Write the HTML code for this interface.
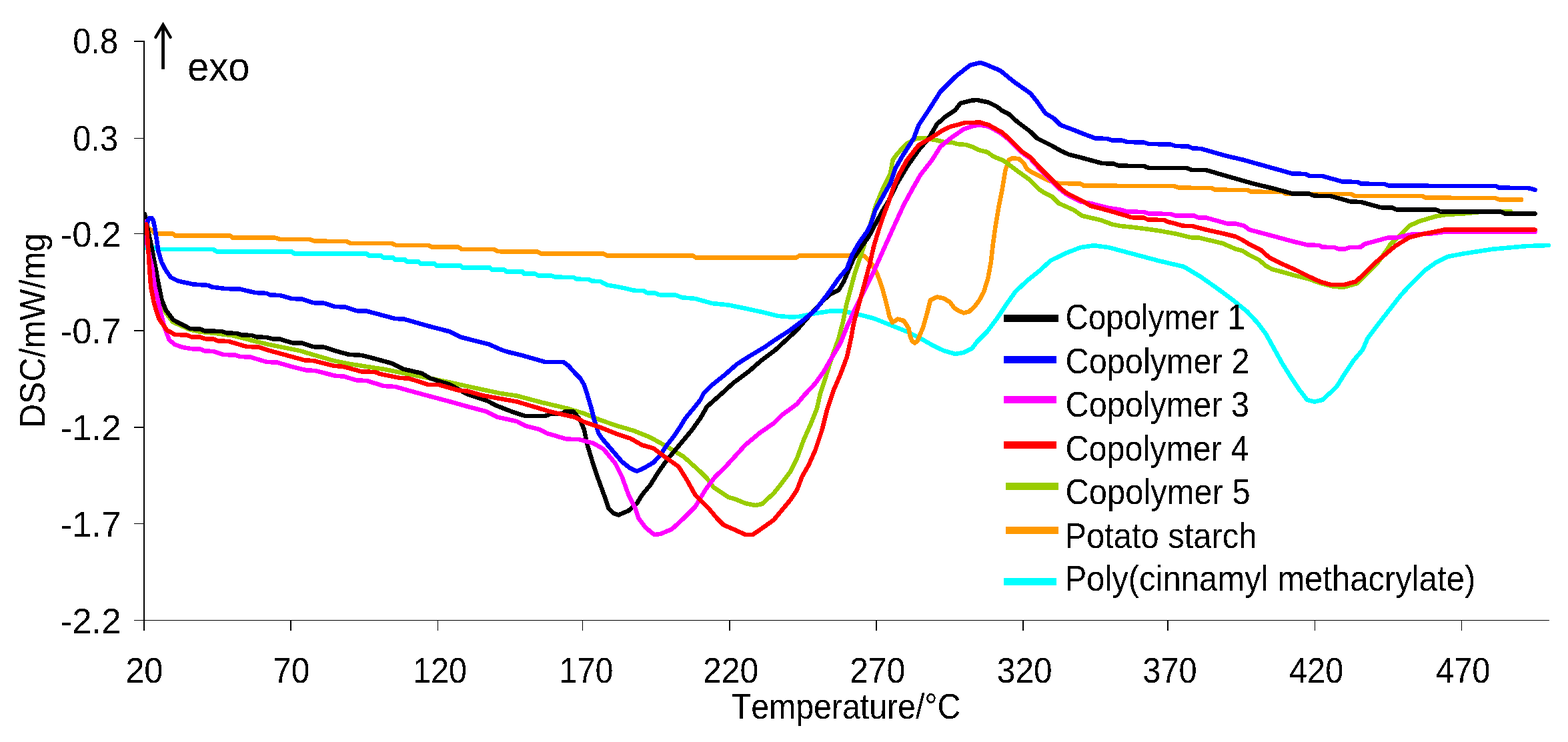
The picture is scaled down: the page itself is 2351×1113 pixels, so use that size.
<!DOCTYPE html>
<html lang="en"><head><meta charset="utf-8"><title>DSC curves</title>
<style>
html,body{margin:0;padding:0;background:#fff;}
body{width:2351px;height:1113px;overflow:hidden;}
svg{display:block;}
text{font-family:"Liberation Sans",Arial,Helvetica,sans-serif;fill:#000;white-space:pre;}
.c polyline{fill:none;stroke-linejoin:round;stroke-linecap:round;}
.ax line{stroke:#000;}
</style></head><body>
<svg width="2351" height="1113" viewBox="0 0 2351 1113">
<rect x="0" y="0" width="2351" height="1113" fill="#ffffff"/>
<clipPath id="plot"><rect x="216" y="0" width="2135" height="1113"/></clipPath>
<g class="c" shape-rendering="crispEdges" clip-path="url(#plot)">
<polyline points="216,371.3 232,371.3 236,373.8 320,373.8 324,377.2 437.5,377.2 441,380.5 549.8,380.5 553,383.4 571.5,383.4 574.6,386.3 589.3,386.3 591.9,389.4 607.2,389.4 609.7,392.4 627.6,392.4 630.8,395.5 651.8,395.5 654.4,398.6 690.8,398.6 693.3,401.5 734.8,401.5 737.3,404.6 756.5,404.6 759,407.5 783.3,407.5 785.8,410.6 802.5,410.7 807.5,413.5 827.5,413.7 832.5,415.7 860,416 865,418.7 882.5,419 887.5,421.7 900,422 910,427.5 925,430 940,433 950,435.7 965,436.2 970,439.2 982.5,439.7 987.5,442.2 1012.5,442.5 1022.5,446.2 1042.5,448 1067.5,455 1092.5,457.5 1122.5,463.7 1147.5,469.2 1165,473.7 1185,475.5 1197.5,475 1222.5,470 1247.5,466.2 1262.5,466.2 1285,471.2 1310,477.5 1335,487.5 1360,497.5 1380,507.5 1397.5,517.5 1415,526 1432.5,531 1445,528.7 1457.5,522.5 1465,512.5 1480,497.5 1495,477.5 1510,455 1522.5,437.5 1540,421 1560,405 1575,391 1597.5,380 1620,371.2 1640,368.2 1662.5,371.2 1700,381.2 1737.5,391.2 1775,400 1800,415 1825,432.5 1850,451.2 1870,467.5 1885,483.7 1897.5,500 1910,522.5 1922.5,545 1935,565 1947.5,583.7 1960,600 1971,602.5 1982.5,600 1995,588.7 2005,578.7 2015,562.5 2030,540 2043,525 2050.5,507.5 2065.5,487.5 2083,465 2100.5,442.5 2118,423.7 2135.5,406.2 2153,393.7 2170.5,385 2193,380.7 2238,373.7 2288,369.2 2322,368" stroke="#00ffff" stroke-width="6.6"/>
<polyline points="216,340.5 222,342 228,346 233,350.4 259,350.4 262.5,353.4 345,353.4 348.5,356.4 412,356.5 420,359 465,359.2 472.5,361.7 520,362 525,365 587.5,365 594,368 642.5,368 647.5,370.7 687.5,370.7 692.5,374 740,374 747.5,377.2 806,377.5 811,380.5 905,380.5 910,383.5 1038.7,383.5 1043.7,386.5 1193.7,386.5 1198.7,383.5 1295,383.5 1305,392.5 1315,410 1322.5,431 1329,455 1333.7,475 1338,483.7 1346,478.7 1355,481 1362.5,492.5 1364.5,504 1367.5,511.5 1371.5,514.5 1375.5,511.5 1379,503 1384,491 1390,470 1395,450 1405,445.5 1415,447.5 1424,453 1431,462 1438,466.5 1445,469.3 1453,467.5 1461,460 1468,451 1475,438 1481.5,417 1486,392 1489,365 1492.5,340 1497.5,310 1502.5,285 1507.5,255 1512.5,240 1517.5,237.5 1527.5,238 1535,245 1540,253.7 1547.5,258.7 1562.5,266 1572.5,271 1587.5,275 1620,275.5 1625,278.7 1760,279 1767.5,281.7 1816.7,282 1821.7,284.7 1870.5,285 1875.5,287.7 1923,288 1928,290.7 2025.5,291 2031.7,294 2133,294.2 2138,296.7 2241.7,297 2248,299.5 2281,299.5" stroke="#ff9900" stroke-width="6.6"/>
<polyline points="217,325 225,365 232,400 237,428 242,452 248,468 259,483 285,494.5 300,497.7 325,500.2 350,503.5 375,510 400,516.2 425,521.2 450,526.2 475,533.7 500,541 525,546 550,550 575,553.7 600,558.7 637.5,566 675,573.7 712.5,582 750,590 775,593.7 812.5,603.7 850,612.5 875,620 900,630 925,638.7 950,646 975,656 1000,670 1025,685 1050,707.5 1060,717.5 1070,731 1092.5,746 1102.5,748.7 1117.5,755 1132.5,758 1142.5,756 1160,740 1170,727.5 1185,707.5 1195,687.5 1205,660 1215,637.5 1225,612.5 1230,590 1237.5,567.5 1247.5,535 1257.5,507.5 1264,482.5 1269,457.5 1275,435 1281,412.5 1287.5,392.5 1295,370 1302.5,345 1310,320 1312.5,310 1325,280 1335,260 1338.7,240 1345,231 1360,215 1375,207.5 1385,207 1405,210.5 1415,213 1427.5,213.7 1435,216 1447.5,217 1457.5,220 1467.5,225 1480,228 1490,235 1505,241 1520,252.5 1542.5,268.7 1557.5,283.7 1565,288.7 1577.5,295 1587.5,305 1610,315 1622.5,323.7 1650,330 1667.5,336.5 1680,339 1695,340.5 1720,343.5 1740,346.5 1763,350.7 1785.5,356.2 1798,356.7 1833,365 1853,373.7 1863,376.2 1873,382.5 1888,390 1898,398.7 1908,404.2 1923,408 1943,413.7 1963,418.7 1980.5,425 2000.5,430 2015.5,430.5 2035,425 2047.5,412.5 2065,395 2077.5,377.5 2085,366.2 2100,352.5 2113,338.7 2128,332 2153,324.5 2168,322 2200,320 2225,317.3 2265,317" stroke="#99cc00" stroke-width="6.6"/>
<polyline points="217,321 219.5,335 225.6,362.5 233,400 237.5,425 242.5,450 248.7,465 260,480 285,493 300,493.7 307.5,496.5 332.5,497 340,499.5 355,500 362.5,502.5 377.5,503 385,505.5 400,506 407.5,508.2 420,508.7 437.5,514.2 452.5,514.5 470,520.2 485,520.5 502.5,526.2 522.5,531.7 542.5,533 560,537.5 587.5,545 605,553.7 632.5,560 645,567.5 675,577 700,591 730,601 745,608.7 767.5,617.5 787.5,624 817.5,624 825,621 842.5,620.5 847.5,617.5 860,617.5 870,630 876,645 880,665 887.5,690 897.5,720 907.5,747.5 912.5,762.5 920,770 927.5,772.5 942.5,766 955,755 962.5,742.5 975,727.5 987.5,707.5 1000,690 1012.5,675 1025,660 1037.5,645 1050,627.5 1060,610 1082,590.5 1100,574 1123,557 1140,542 1162.5,525 1195,495 1210,477.5 1235,450 1245,441.2 1257.5,435 1265,422.5 1272.5,405 1280,387.5 1290,372.5 1302.5,355 1311,339 1322.5,317.5 1332,302 1345,275 1360,250 1377.5,225 1392.5,207.5 1405,186 1417.5,175 1432.5,165 1440,155 1457.5,150.5 1465,150 1482.5,153.7 1495,160 1502.5,166 1512.5,171 1525,182.5 1545,197.5 1555,207.5 1577.5,218.7 1590,226 1602.5,231.7 1625,237.5 1652.5,245 1670,245.7 1677.5,248.7 1715,249 1722.5,252 1780,252.2 1786.7,255 1808,255 1838,263.7 1875.5,274.5 1913,283.7 1938,290.5 1963,290.7 1970.5,293.7 1995.5,294.2 2025.5,302.5 2040.5,303 2070.5,311.2 2088,311.7 2094,314.5 2153,314.7 2160.5,317.5 2250.5,317.7 2256.7,320.5 2301.5,320.5" stroke="#000000" stroke-width="6.6"/>
<polyline points="217.5,332 218,350 219.5,362 222.5,375 224.7,386 228,400 232.2,430 238,455 243,477 247,492 250,500 253.7,510 262.5,517 275,521.2 287.5,523.2 300,523.7 307.5,526.5 320,527 335,532 352.5,532.5 360,535 375,535.5 400,543 415,543.5 440,550.7 460,555.5 472.5,556 502.5,563.7 515,564.5 535,570.5 550,571 575,579 592.5,580 612.5,585.7 637.5,592.5 675,602.5 700,609.5 730,617.5 745,625.5 775,632 787.5,638.7 810,644.5 820,650 850,658.7 867.5,659 890,665 905,673.7 922.5,695 932.5,715 942.5,742.5 952.5,762.5 957.5,777.5 967.5,791 981,802 990,801 1007.5,793.7 1025,777.5 1042.5,760 1057.5,735 1072.5,715 1088,700 1092.5,695 1117.5,667.5 1140,648.7 1160,635 1172.5,622.5 1195,606 1205,593.7 1222.5,575 1235,557.5 1245,540 1260,515 1270,490 1282.5,462.5 1297.5,432.5 1310,407.5 1320,385 1330,362.5 1341,338 1355,307.5 1370,280 1380,262.5 1397.5,240 1410,220 1425,207.5 1445,193.7 1460,188.7 1470,187.5 1483,190 1500,199.5 1511.5,208.5 1531.5,228.5 1544,237 1556.5,251 1574,268.5 1589,283.5 1599,291.5 1620,302.5 1635,305 1662.5,312 1682.5,315 1690,317.5 1715,318 1722.5,320.5 1755,321 1762.5,323.7 1790.5,323.5 1795.5,326.2 1808,326.5 1840.5,335.5 1853,335.7 1865.5,338.7 1873,344.5 1903,352.5 1938,362 1960.5,367.5 1978,368 1983,370.7 2000.5,371 2008,373.7 2015.5,373.7 2023,371.2 2040.5,370.7 2045.5,366.2 2080.5,356.7 2095.5,356.2 2118,351.2 2145.5,350.5 2166,347.8 2301.5,347.8" stroke="#ff00ff" stroke-width="6.6"/>
<polyline points="218,348 220.5,336 222.5,329.5 224.5,327 227.5,327 230,331.5 232,341 235,360 237.5,377 242.5,394 249,406 256,416 267,421.5 290,426.5 312.5,428 317.5,430.5 337.5,433 360,433.7 382.5,439 400,440 405,442.5 420,443 437.5,448 452.5,448.5 470,454.2 485,454.5 502.5,460 517.5,460.5 535,466.2 550,466.7 592.5,478 605,478.5 650,491.2 675,497.5 690,505.5 732.5,516.2 752.5,525 760,527.5 785,533.7 817.5,543 845,543.2 852.5,548.7 862.5,560 870,567.5 876,577.5 880,590 886,610 891,630 897.5,650 902.5,657.5 917.5,675 932.5,692.5 945,702.5 955,707 967.5,701 980,693.7 990,682.5 1000,667.5 1010,655 1020,640 1027.5,627.5 1040,612.5 1050,600 1055,590 1067.5,577.5 1085,563.7 1105,546.2 1122.5,535 1147.5,520 1160,511.2 1185,495 1205,480 1222.5,465 1240,442.5 1257.5,417.5 1270,402.5 1277.5,382.5 1287.5,365 1300,347.5 1306,335 1312.5,315 1325,292.5 1335,275 1342.5,252.5 1352.5,235 1370,207.5 1377.5,187.5 1392.5,165 1410,137.5 1432.5,115 1455,97.5 1470,94 1480,97.5 1500,106 1520,122.5 1545,140 1555,152.5 1567.5,170 1580,177.5 1590,187.5 1610,195 1625,201 1642.5,207.5 1660,208 1667.5,210.5 1682.5,210.7 1690,213 1715,213.5 1722.5,216 1755,216.5 1762.5,219 1781.7,219.5 1788,222.5 1800.5,223 1838,233.7 1863,239.5 1900.5,250 1938,260.5 1958,261 1963,264 1983,264.2 2013,272.5 2035.5,273 2040.5,275.7 2075.5,276 2083,278.7 2243,279 2248,281.7 2290.5,282 2297,283.2 2301.5,285" stroke="#0000ff" stroke-width="6.6"/>
<polyline points="219.3,336.5 221,355 222.6,378 224.3,405 226.2,430 231,455 238,477.5 250,495 262.5,502 280,502.5 287.5,505.5 300,505.7 307.5,508.2 320,508.7 327.5,511.5 342.5,512 370,520 387.5,520.5 405,526.2 432.5,533.7 457.5,540.5 470,541 500,548.7 515,550 542.5,557.5 562.5,558 570,561 600,567 612.5,567.5 642.5,577 657.5,577 687.5,585.5 700,586.5 725,593.5 750,598 775,602.5 800,610 825,617.5 862.5,626 875,632.5 900,641 925,651 945,657.5 962.5,667.5 980,672.5 1000,687.5 1017.5,700 1030,720 1042.5,742.5 1062.5,762.5 1075,777.5 1085,787.5 1102.5,795 1117.5,802 1128.7,802 1142.5,792.5 1160,780 1172.5,765 1185,750 1195,735 1202.5,715 1212.5,697.5 1222.5,675 1232.5,645 1240,615 1250,585 1260,562 1270,535 1276,507.5 1280,485 1287.5,457.5 1295,430 1303.7,397.5 1310,370 1317.5,345 1325,322.5 1332.5,302.5 1340,280 1347.5,262.5 1360,240 1377.5,217.5 1395,207.5 1412.5,196 1425,190 1447.5,184 1470,183.7 1482.5,187.5 1502.5,198.7 1512.5,207.5 1532.5,227.5 1545,236 1557.5,250 1575,267.5 1590,282.5 1600,290 1625,302.5 1635,308.7 1662.5,316 1687.5,323.3 1697,326.2 1715,326.5 1721,329.5 1745,330 1752,333 1762.5,335.5 1773,338.7 1788,339.2 1808,344.5 1833,350 1853,355 1863,360 1873,366.2 1890.5,375 1903,386.2 1923,396.2 1943,405 1963,415 1980.5,423 1995.5,427 2015.5,427 2032.5,422.5 2045,411.2 2062.5,393.7 2077.5,381.2 2092.5,368.7 2113,356.2 2133,351.2 2152,347.5 2160,346 2165,344.7 2301.5,344.7" stroke="#ff0000" stroke-width="6.6"/>
</g>
<g class="ax" shape-rendering="crispEdges">
<line x1="216" y1="61" x2="216" y2="946" stroke-width="2"/>
<line x1="201" y1="930.5" x2="2323" y2="930.5" stroke-width="1.3"/>
<line x1="201" y1="62" x2="216" y2="62" stroke-width="2"/>
<line x1="201" y1="207.6" x2="216" y2="207.6" stroke-width="1.3"/>
<line x1="201" y1="350.6" x2="216" y2="350.6" stroke-width="1.1"/>
<line x1="201" y1="496" x2="216" y2="496" stroke-width="2"/>
<line x1="201" y1="641" x2="216" y2="641" stroke-width="1.5"/>
<line x1="201" y1="785.7" x2="216" y2="785.7" stroke-width="1.5"/>
<line x1="435.9" y1="930" x2="435.9" y2="945.8" stroke-width="1.5"/>
<line x1="656.5" y1="930" x2="656.5" y2="945.8" stroke-width="1.3"/>
<line x1="873.6" y1="930" x2="873.6" y2="945.8" stroke-width="1.1"/>
<line x1="1093.9" y1="930" x2="1093.9" y2="945.8" stroke-width="2.3"/>
<line x1="1313.9" y1="930" x2="1313.9" y2="945.8" stroke-width="2"/>
<line x1="1534" y1="930" x2="1534" y2="945.8" stroke-width="1.6"/>
<line x1="1751.2" y1="930" x2="1751.2" y2="945.8" stroke-width="1.8"/>
<line x1="1971.4" y1="930" x2="1971.4" y2="945.8" stroke-width="1.1"/>
<line x1="2191.4" y1="930" x2="2191.4" y2="945.8" stroke-width="1"/>
</g>
<filter id="th" x="-5%" y="-20%" width="110%" height="140%" color-interpolation-filters="sRGB"><feComponentTransfer><feFuncA type="discrete" tableValues="0 1"/></feComponentTransfer></filter>
<text filter="url(#th)" font-size="53.4" transform="translate(111.1 80.0) scale(0.9137 1)" x="-2.09 27.61 42.45" y="0">0.8</text>
<text filter="url(#th)" font-size="53.4" transform="translate(111.1 225.6) scale(0.9140 1)" x="-2.09 27.61 42.45" y="0">0.3</text>
<text filter="url(#th)" font-size="53.4" transform="translate(93 370) scale(0.9890 1)" x="-2.37 15.41 45.11 59.94" y="0">-0.2</text>
<text filter="url(#th)" font-size="53.4" transform="translate(93 515) scale(0.9890 1)" x="-2.37 15.41 45.11 59.94" y="0">-0.7</text>
<text filter="url(#th)" font-size="53.4" transform="translate(93 660) scale(0.9890 1)" x="-2.37 15.41 45.11 59.94" y="0">-1.2</text>
<text filter="url(#th)" font-size="53.4" transform="translate(93 805) scale(0.9890 1)" x="-2.37 15.41 45.11 59.94" y="0">-1.7</text>
<text filter="url(#th)" font-size="53.4" transform="translate(93 950) scale(0.9890 1)" x="-2.37 15.41 45.11 59.94" y="0">-2.2</text>
<text filter="url(#th)" font-size="53.4" transform="translate(190.7 1024) scale(0.9483 1)" x="-2.69 27.01" y="0">20</text>
<text filter="url(#th)" font-size="53.4" transform="translate(411.7 1024) scale(0.9309 1)" x="-2.74 26.96" y="0">70</text>
<text filter="url(#th)" font-size="53.4" transform="translate(622.8 1024) scale(0.9079 1)" x="-4.07 25.63 55.33" y="0">120</text>
<text filter="url(#th)" font-size="53.4" transform="translate(842.3 1024) scale(0.9079 1)" x="-4.07 25.63 55.33" y="0">170</text>
<text filter="url(#th)" font-size="53.4" transform="translate(1056.4 1024) scale(0.9357 1)" x="-2.69 27.01 56.71" y="0">220</text>
<text filter="url(#th)" font-size="53.4" transform="translate(1276.4 1024) scale(0.9369 1)" x="-2.69 27.01 56.71" y="0">270</text>
<text filter="url(#th)" font-size="53.4" transform="translate(1496.7 1024) scale(0.9285 1)" x="-2.03 27.66 57.36" y="0">320</text>
<text filter="url(#th)" font-size="53.4" transform="translate(1715.2 1024) scale(0.9132 1)" x="-2.03 27.66 57.36" y="0">370</text>
<text filter="url(#th)" font-size="53.4" transform="translate(1934.2 1024) scale(0.9104 1)" x="-1.23 28.47 58.17" y="0">420</text>
<text filter="url(#th)" font-size="53.4" transform="translate(2154.2 1024) scale(0.9139 1)" x="-1.23 28.47 58.17" y="0">470</text>
<text filter="url(#th)" font-size="53.4" transform="translate(1097.8 1078) scale(0.9035 1)" x="-1.20 31.42 61.12 105.60 135.30 165.00 182.78 212.48 227.32 257.01 274.80 304.49 319.33 340.69" y="0">Temperature/°C</text>
<text filter="url(#th)" font-size="53.4" transform="translate(67.2 638) rotate(-90) scale(0.9385 1)" x="-4.38 34.18 69.80 108.36 123.20 167.68 218.08 232.92 277.40" y="0">DSC/mW/mg</text>
<text filter="url(#th)" font-size="60.5" transform="translate(283.4 121.3) scale(0.9585 1)" x="-2.57 31.08 61.33" y="0">exo</text>
<g fill="none" stroke="#000" stroke-linejoin="miter"><path d="M244.5 103.8 V38" stroke-width="4.8" stroke-linecap="butt"/><path d="M233.4 55.9 L244.5 37 L255.6 55.9" stroke-width="4.3" stroke-linecap="round"/></g>
<g shape-rendering="crispEdges">
<rect x="1505" y="472" width="82" height="11" fill="#000000"/>
<rect x="1505" y="534" width="79" height="11" fill="#0000ff"/>
<rect x="1505" y="594" width="79" height="11" fill="#ff00ff"/>
<rect x="1505" y="662" width="79" height="11" fill="#ff0000"/>
<rect x="1508" y="724" width="79" height="11" fill="#99cc00"/>
<rect x="1508" y="790" width="79" height="11" fill="#ff9900"/>
<rect x="1505" y="867" width="79" height="11" fill="#00ffff"/>
</g>
<text filter="url(#th)" font-size="53.4" transform="translate(1600 493.7) scale(0.8894 1)" x="-2.71 35.85 65.55 95.25 124.95 136.81 163.51 207.99 237.69 255.48 270.31" y="0">Copolymer 1</text>
<text filter="url(#th)" font-size="53.4" transform="translate(1600 559.7) scale(0.9115 1)" x="-2.71 35.85 65.55 95.25 124.95 136.81 163.51 207.99 237.69 255.48 270.31" y="0">Copolymer 2</text>
<text filter="url(#th)" font-size="53.4" transform="translate(1600 624.5) scale(0.9104 1)" x="-2.71 35.85 65.55 95.25 124.95 136.81 163.51 207.99 237.69 255.48 270.31" y="0">Copolymer 3</text>
<text filter="url(#th)" font-size="53.4" transform="translate(1600 691.2) scale(0.9080 1)" x="-2.71 35.85 65.55 95.25 124.95 136.81 163.51 207.99 237.69 255.48 270.31" y="0">Copolymer 4</text>
<text filter="url(#th)" font-size="53.4" transform="translate(1600 756) scale(0.9158 1)" x="-2.71 35.85 65.55 95.25 124.95 136.81 163.51 207.99 237.69 255.48 270.31" y="0">Copolymer 5</text>
<text filter="url(#th)" font-size="53.4" transform="translate(1600.4 821.5) scale(0.9156 1)" x="-4.38 31.24 60.94 75.77 105.47 120.31 150.00 164.84 191.54 206.38 236.08 253.86 280.56" y="0">Potato starch</text>
<text filter="url(#th)" font-size="53.4" transform="translate(1600.4 885.6) scale(0.9183 1)" x="-4.38 31.24 60.94 72.80 99.50 117.28 143.98 155.85 185.54 215.24 244.94 289.42 316.12 327.99 342.82 387.31 417.00 431.84 461.54 491.24 517.94 535.72 562.42 574.28 603.98 618.82 648.52" y="0">Poly(cinnamyl methacrylate)</text>
</svg></body></html>
